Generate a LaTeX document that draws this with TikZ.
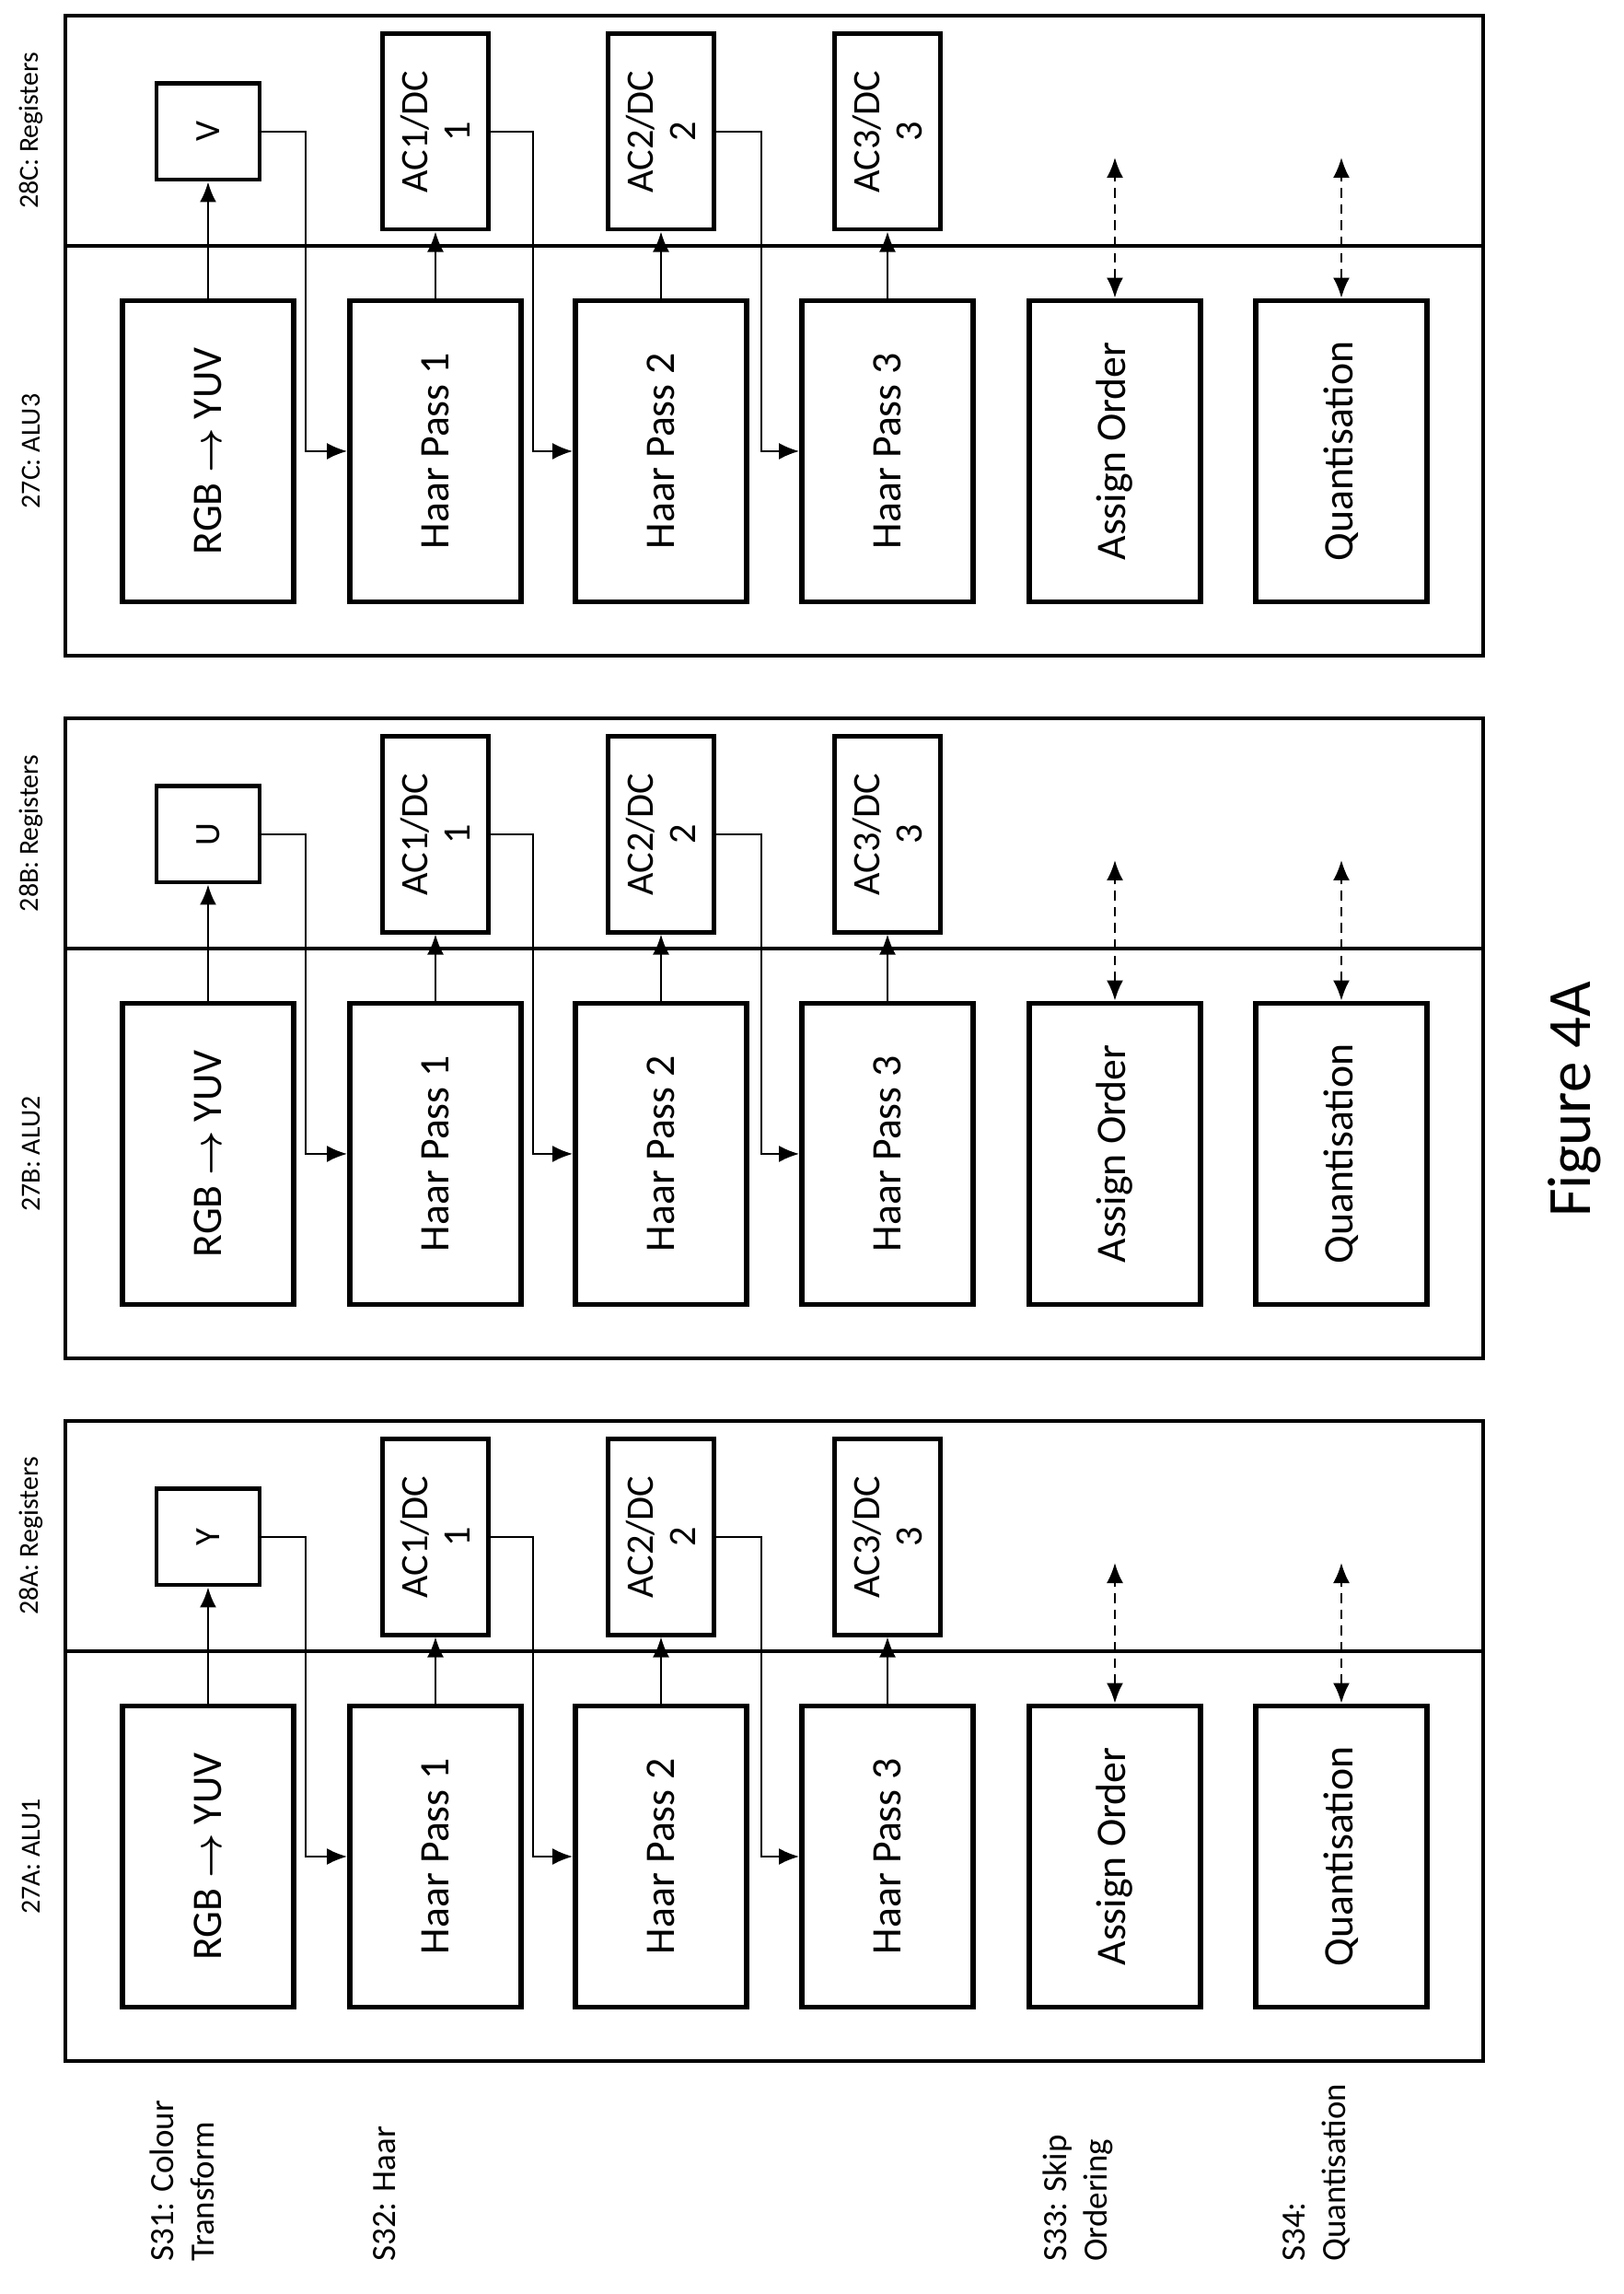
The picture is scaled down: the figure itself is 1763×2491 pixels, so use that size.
\documentclass[tikz,border=0pt]{standalone}
\usepackage{bm}
\usepackage{fontspec}
\setmainfont{Carlito}
\usetikzlibrary{arrows.meta, positioning}

\begin{document}
\begin{tikzpicture}[x=0.01cm, y=0.01cm,
        stage/.style={draw, line width=1.6pt, minimum width=3.27cm, minimum height=1.86cm, font=\fontsize{13}{15}\selectfont},
        reg/.style={draw, line width=1.4pt, minimum width=1.04cm, minimum height=1.12cm, font=\fontsize{11}{13}\selectfont},
        acreg/.style={draw, line width=1.4pt, minimum width=2.12cm, minimum height=1.15cm, align=center, font=\fontsize{12}{13}\selectfont},
        tag/.style={font=\fontsize{8.5}{10}\selectfont},
        steplabel/.style={anchor=west, align=left, font=\fontsize{10.5}{12.5}\selectfont},
        arrow/.style={-{Latex[length=2.2mm, width=1.8mm]}, line width=0.7pt},
        twoway/.style={{Latex[length=2.2mm, width=1.8mm]}-{Latex[length=2.2mm, width=1.8mm]}, densely dashed, line width=0.7pt}
    ]
        \useasboundingbox (0,0) rectangle (1763,2491);

        % whole figure drawn in landscape, turned a quarter
        \begin{scope}[shift={(1763,0)}, rotate=90, every node/.style={transform shape}]

        % Step labels
        \node[steplabel] (s31) at (23,1565) {S31: Colour\\Transform};
        \node[steplabel] (s32) at (23,1345) {S32: Haar};
        \node[steplabel] (s33) at (23,592) {S33: Skip\\Ordering};
        \node[steplabel] (s34) at (23,333) {S34:\\Quantisation};

        % One panel per ALU and its registers
        \foreach \u/\k/\r/\n in {253/A/Y/1, 1016/B/U/2, 1779/C/V/3} {
            % Frame
            \draw[line width=1.2pt] (\u,152) rectangle ++(695,1540);
            \draw[line width=1.2pt] (\u+445,152) -- (\u+445,1692);
            \node[tag] (alu\k) at (\u+222,1729) {27\k: ALU\n};
            \node[tag] (regs\k) at (\u+570,1729) {28\k: Registers};

            % ALU stages
            \node[stage] (rgb\k) at (\u+222,1537) {RGB $\bm{\rightarrow}$ YUV};
            \node[stage] (hone\k) at (\u+222,1290) {Haar Pass 1};
            \node[stage] (htwo\k) at (\u+222,1045) {Haar Pass 2};
            \node[stage] (hthree\k) at (\u+222,799) {Haar Pass 3};
            \node[stage] (order\k) at (\u+222,552) {Assign Order};
            \node[stage] (quant\k) at (\u+222,306) {Quantisation};

            % Registers
            \node[reg] (val\k) at (\u+569,1537) {\r};
            \node[acreg] (acone\k) at (\u+569,1290) {AC1/DC\\1};
            \node[acreg] (actwo\k) at (\u+569,1045) {AC2/DC\\2};
            \node[acreg] (acthree\k) at (\u+569,799) {AC3/DC\\3};

            \coordinate (bone\k) at (\u+222,1431);
            \coordinate (btwo\k) at (\u+222,1184);
            \coordinate (bthree\k) at (\u+222,936);
            \coordinate (ordtop\k) at (\u+541,552);
            \coordinate (quanttop\k) at (\u+541,306);

            % Arrows
            \draw[arrow] (rgb\k) -- (val\k);
            \draw[arrow] (hone\k) -- (acone\k);
            \draw[arrow] (htwo\k) -- (actwo\k);
            \draw[arrow] (hthree\k) -- (acthree\k);
            \draw[arrow] (val\k.south) |- (bone\k) -- (hone\k.north);
            \draw[arrow] (acone\k.south) |- (btwo\k) -- (htwo\k.north);
            \draw[arrow] (actwo\k.south) |- (bthree\k) -- (hthree\k.north);
            \draw[twoway] (order\k) -- (ordtop\k);
            \draw[twoway] (quant\k) -- (quanttop\k);
        }

        \node[font=\fontsize{19}{21}\selectfont] (caption) at (1297,53) {Figure 4A};
        \end{scope}
    \end{tikzpicture}
\end{document}
